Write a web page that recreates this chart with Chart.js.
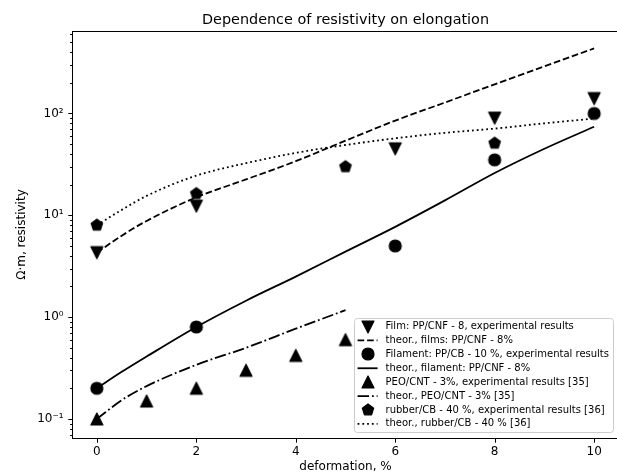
<!DOCTYPE html>
<html>
<head>
<meta charset="utf-8">
<script src="https://cdn.jsdelivr.net/npm/chart.js@4/dist/chart.umd.min.js"></script>
<style>
  html, body { margin: 0; padding: 0; background: #fff; overflow: hidden; }
  #wrap { width: 617px; height: 475px; overflow: hidden; }
</style>
</head>
<body>
<div id="wrap"><canvas id="chart" width="626" height="475"></canvas></div>
<script>
// experimental points
const filmX = [0, 2, 6, 8, 10];
const filmY = [4.3, 12.3, 45, 90, 140];
const filamentX = [0, 2, 6, 8, 10];
const filamentY = [0.2, 0.8, 5, 35, 100];
const peoX = [0, 1, 2, 3, 4, 5];
const peoY = [0.1, 0.15, 0.2, 0.3, 0.42, 0.6];
const rubberX = [0, 2, 5, 8];
const rubberY = [8, 16.3, 30, 51];

// theoretical curves
const filmTheoryX = [0, 0.5, 1, 2, 3, 4, 5, 6, 7, 8, 9, 10];
const filmTheoryY = [4.3, 6.3, 8.8, 15, 22.5, 34, 54, 85, 128, 193, 290, 435];
const filamentTheoryX = [0, 0.5, 1, 2, 3, 4, 5, 6, 7, 8, 9, 10];
const filamentTheoryY = [0.2, 0.29, 0.41, 0.8, 1.45, 2.5, 4.4, 7.7, 14, 26, 45, 74];
const peoTheoryX = [0, 0.5, 1, 2, 3, 4, 5];
const peoTheoryY = [0.1, 0.153, 0.21, 0.34, 0.5, 0.77, 1.17];
const rubberTheoryX = [0, 0.5, 1, 2, 3, 4, 5, 6, 7, 8, 9, 10];
const rubberTheoryY = [8, 11.3, 15.5, 24.5, 32.5, 41, 49, 57, 64.5, 71, 80, 89];

const labels = [
  "Film: PP/CNF - 8, experimental results",
  "theor., films: PP/CNF - 8%",
  "Filament: PP/CB - 10 %, experimental results",
  "theor., filament: PP/CNF - 8%",
  "PEO/CNT - 3%, experimental results [35]",
  "theor., PEO/CNT - 3% [35]",
  "rubber/CB - 40 %, experimental results [36]",
  "theor., rubber/CB - 40 % [36]"
];

const xTicks = [0, 2, 4, 6, 8, 10];
const yTicks = [0.1, 1, 10, 100];
const yTickLabels = ["10\u207B\u00B9", "10\u2070", "10\u00B9", "10\u00B2"];

const chartTitle = "Dependence of resistivity on elongation";
const FONT = "DejaVu Sans";

function pts(xs, ys) {
  return xs.map((x, i) => ({ x: x, y: ys[i] }));
}

// matplotlib-like marker shapes
function makeMarker(kind) {
  const c = document.createElement("canvas");
  c.width = 18;
  c.height = 18;
  const g = c.getContext("2d");
  const cx = 9, cy = 9, r = 6;
  g.fillStyle = "#000";
  g.strokeStyle = "#000";
  g.lineWidth = 1.2;
  g.lineJoin = "round";
  g.beginPath();
  if (kind === "circle") {
    g.arc(cx, cy, r, 0, Math.PI * 2);
  } else if (kind === "down") {
    g.moveTo(cx, cy + r);
    g.lineTo(cx - r, cy - r);
    g.lineTo(cx + r, cy - r);
    g.closePath();
  } else if (kind === "up") {
    g.moveTo(cx, cy - r);
    g.lineTo(cx - r, cy + r);
    g.lineTo(cx + r, cy + r);
    g.closePath();
  } else {
    for (let k = 0; k < 5; k++) {
      const a = -Math.PI / 2 + k * 2 * Math.PI / 5;
      const px = cx + r * Math.cos(a), py = cy + r * Math.sin(a);
      if (k === 0) g.moveTo(px, py); else g.lineTo(px, py);
    }
    g.closePath();
  }
  g.fill();
  g.stroke();
  return c;
}

function markerSet(label, data, shape, order) {
  return {
    label: label,
    data: data,
    showLine: false,
    pointStyle: makeMarker(shape),
    pointRadius: 6,
    pointHoverRadius: 6,
    order: order
  };
}

function lineSet(label, data, dash, order) {
  return {
    label: label,
    data: data,
    showLine: true,
    pointRadius: 0,
    pointHoverRadius: 0,
    borderColor: "#000",
    borderWidth: 1.8,
    borderDash: dash,
    cubicInterpolationMode: "monotone",
    order: order
  };
}

const datasets = [
  markerSet(labels[0], pts(filmX, filmY), "down", 8),
  lineSet(labels[1], pts(filmTheoryX, filmTheoryY), [6.66, 2.88], 7),
  markerSet(labels[2], pts(filamentX, filamentY), "circle", 6),
  lineSet(labels[3], pts(filamentTheoryX, filamentTheoryY), [], 5),
  markerSet(labels[4], pts(peoX, peoY), "up", 4),
  lineSet(labels[5], pts(peoTheoryX, peoTheoryY), [11.52, 2.88, 1.8, 2.88], 3),
  markerSet(labels[6], pts(rubberX, rubberY), "pent", 2),
  lineSet(labels[7], pts(rubberTheoryX, rubberTheoryY), [1.8, 2.97], 1)
];

// box around the axes, outward ticks and a title centred over the axes
const axisFrame = {
  id: "axisFrame",
  afterDatasetsDraw(chart) {
    const { ctx, chartArea: a, scales } = chart;
    const x = scales.x, y = scales.y;
    ctx.save();
    ctx.strokeStyle = "#000";
    ctx.lineWidth = 1;
    ctx.strokeRect(Math.round(a.left) + 0.5, Math.round(a.top) + 0.5,
      Math.round(a.right - a.left), Math.round(a.bottom - a.top));
    ctx.beginPath();
    const b = Math.round(a.bottom) + 0.5, l = Math.round(a.left) + 0.5;
    xTicks.forEach(v => {
      const px = Math.round(x.getPixelForValue(v)) + 0.5;
      ctx.moveTo(px, b);
      ctx.lineTo(px, b + 4.2);
    });
    yTicks.forEach(v => {
      const py = Math.round(y.getPixelForValue(v)) + 0.5;
      ctx.moveTo(l, py);
      ctx.lineTo(l - 4.2, py);
    });
    const e0 = Math.floor(Math.log10(y.min)), e1 = Math.ceil(Math.log10(y.max));
    for (let e = e0; e <= e1; e++) {
      for (let m = 2; m <= 9; m++) {
        const v = m * Math.pow(10, e);
        if (v < y.min || v > y.max) continue;
        const py = Math.round(y.getPixelForValue(v)) + 0.5;
        ctx.moveTo(l, py);
        ctx.lineTo(l - 2.4, py);
      }
    }
    ctx.stroke();

    ctx.fillStyle = "#000";
    ctx.font = "14.4px '" + FONT + "'";
    ctx.textAlign = "center";
    ctx.textBaseline = "alphabetic";
    ctx.fillText(chartTitle, (a.left + a.right) / 2, a.top - 7.5);
    ctx.restore();
  }
};

// legend in the lower right corner of the plot
const insideLegend = {
  id: "insideLegend",
  afterDraw(chart) {
    const { ctx, chartArea: a } = chart;
    const sets = chart.data.datasets;
    ctx.save();
    ctx.font = "10px '" + FONT + "'";
    const textW = Math.max(...sets.map(d => ctx.measureText(d.label).width));
    const rowH = 13.9, pad = 4, handleLen = 20, gap = 8;
    const w = pad + handleLen + gap + textW + pad;
    const h = sets.length * rowH + 2.4;
    const right = a.right - 6, bottom = a.bottom - 6;
    const left = right - w, top = bottom - h;
    ctx.fillStyle = "rgba(255,255,255,0.8)";
    ctx.strokeStyle = "#cccccc";
    ctx.lineWidth = 1;
    ctx.beginPath();
    ctx.roundRect(Math.round(left) + 0.5, Math.round(top) + 0.5, Math.round(w), Math.round(h), 3);
    ctx.fill();
    ctx.stroke();
    sets.forEach((d, i) => {
      const cy = top + 1.2 + rowH * (i + 0.5);
      const hx = left + pad;
      if (d.showLine) {
        ctx.strokeStyle = "#000";
        ctx.lineWidth = d.borderWidth;
        ctx.setLineDash(d.borderDash);
        ctx.beginPath();
        ctx.moveTo(hx, cy);
        ctx.lineTo(hx + handleLen, cy);
        ctx.stroke();
        ctx.setLineDash([]);
      } else {
        const img = d.pointStyle;
        ctx.drawImage(img, Math.round(hx + handleLen / 2 - img.width / 2), Math.round(cy - img.height / 2));
      }
      ctx.fillStyle = "#000";
      ctx.textBaseline = "middle";
      ctx.textAlign = "left";
      ctx.fillText(d.label, hx + handleLen + gap, cy);
    });
    ctx.restore();
  }
};

const config = {
  type: "scatter",
  data: { datasets: datasets },
  options: {
    responsive: false,
    animation: false,
    devicePixelRatio: 1,
    layout: { padding: { left: 0, top: 31, right: 1, bottom: 0 } },
    scales: {
      x: {
        type: "linear",
        min: -0.5,
        max: 10.5,
        grid: { display: false, drawTicks: false },
        border: { display: false },
        afterBuildTicks: s => { s.ticks = xTicks.map(v => ({ value: v })); },
        afterFit: s => { s.height = 37; },
        ticks: {
          color: "#000",
          font: { family: FONT, size: 12 },
          padding: 6.8,
          maxRotation: 0,
          autoSkip: false
        },
        title: {
          display: true,
          text: "deformation, %",
          color: "#000",
          font: { family: FONT, size: 12 },
          padding: { top: 0, bottom: 0.8 }
        }
      },
      y: {
        type: "logarithmic",
        min: 0.065,
        max: 645,
        grid: { display: false, drawTicks: false },
        border: { display: false },
        afterBuildTicks: s => { s.ticks = yTicks.map(v => ({ value: v })); },
        afterFit: s => { s.width = 72; },
        ticks: {
          color: "#000",
          font: { family: FONT, size: 12 },
          padding: 8.4,
          autoSkip: false,
          callback: v => yTickLabels[yTicks.indexOf(v)]
        },
        title: {
          display: true,
          text: "\u03A9\u00B7m, resistivity",
          color: "#000",
          font: { family: FONT, size: 12 },
          padding: { top: 15, bottom: 0 }
        }
      }
    },
    plugins: {
      legend: { display: false },
      tooltip: { enabled: false },
      title: { display: false }
    }
  },
  plugins: [axisFrame, insideLegend]
};

const myChart = new Chart(document.getElementById("chart"), config);
</script>
</body>
</html>
